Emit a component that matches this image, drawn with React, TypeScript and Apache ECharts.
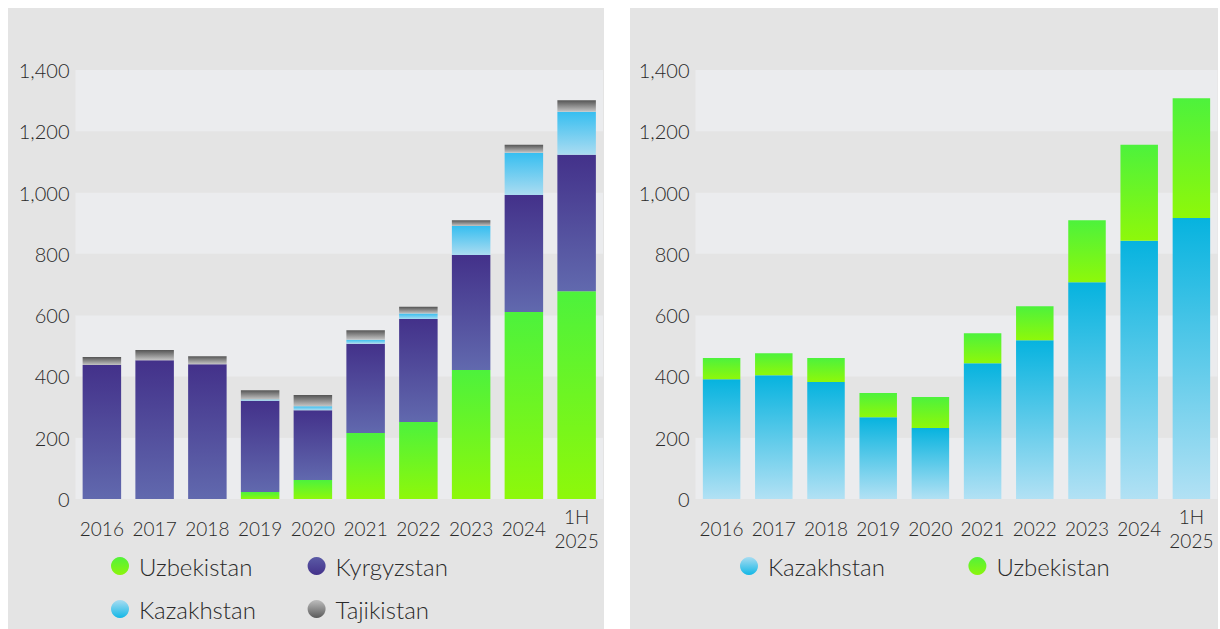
import React, { useEffect, useRef } from "react";
import * as echarts from "echarts";

const categories = ["2016", "2017", "2018", "2019", "2020", "2021", "2022", "2023", "2024", "1H\n2025"];

// Left chart (stacked, bottom to top)
const leftUzbekistan = [0, 0, 0, 23, 62, 215, 251, 421, 610, 678];
const leftKyrgyzstan = [437, 453, 440, 298, 228, 292, 336, 375, 382, 445];
const leftKazakhstan = [0, 0, 0, 4, 13, 13, 18, 95, 138, 141];
const leftTajikistan = [26, 33, 26, 30, 36, 31, 22, 19, 26, 37];

// Right chart (stacked, bottom to top)
const rightKazakhstan = [391, 404, 382, 267, 232, 443, 518, 707, 843, 917];
const rightUzbekistan = [69, 72, 78, 79, 101, 98, 111, 203, 313, 391];

const FONT = "Lato";
const WEIGHT = 300;
const TEXT = "#2a2a2a";

const grad = (top: string, bottom: string) =>
  new echarts.graphic.LinearGradient(0, 0, 0, 1, [
    { offset: 0, color: top },
    { offset: 1, color: bottom },
  ]);

const C = {
  uzb: ["#4df23c", "#8ef80a"],
  kyr: ["#43318a", "#6169ae"],
  kazL: ["#36bef0", "#abdcf1"],
  kazR: ["#06b3df", "#b2e1f4"],
  taj: ["#555555", "#c4c4c4"],
};

export default function App() {
  const ref = useRef<HTMLDivElement>(null);

  useEffect(() => {
    if (!ref.current) return;
    const chart = echarts.init(ref.current, undefined, { renderer: "svg" });

    const yAxisBase = (gridIndex: number) => ({
      type: "value" as const,
      gridIndex,
      min: 0,
      max: 1600,
      interval: 200,
      axisLine: { show: false },
      axisTick: { show: false },
      splitLine: { show: false },
      splitArea: { show: true, areaStyle: { color: ["#ebecee", "#e4e4e4"] } },
      axisLabel: {
        margin: 6,
        fontFamily: FONT,
        fontWeight: WEIGHT,
        fontSize: 20,
        color: TEXT,
        formatter: (v: number) => (v >= 1600 ? "" : v.toLocaleString("en-US")),
      },
    });

    const xAxisBase = (gridIndex: number) => ({
      type: "category" as const,
      gridIndex,
      data: categories,
      axisLine: { show: false },
      axisTick: { show: false },
      axisLabel: {
        margin: 29,
        verticalAlign: "middle" as const,
        fontFamily: FONT,
        fontWeight: WEIGHT,
        fontSize: 19,
        lineHeight: 24,
        color: TEXT,
        interval: 0,
      },
    });

    const legendItem = (name: string, left: number, top: number, icon: [string, string]) => ({
      left,
      top,
      icon: "circle",
      itemWidth: 18,
      itemHeight: 18,
      selectedMode: false,
      textStyle: { fontFamily: FONT, fontWeight: WEIGHT, fontSize: 24, color: TEXT, padding: [0, 0, 0, 5] },
      data: [{ name, itemStyle: { color: grad(icon[0], icon[1]) } }],
    });

    const option = {
      animation: false,
      grid: [
        { left: 75.5, right: 617, top: 8.7, bottom: 130 },
        { left: 695.5, right: 2.5, top: 8.7, bottom: 130 },
      ],
      xAxis: [xAxisBase(0), xAxisBase(1)],
      yAxis: [yAxisBase(0), yAxisBase(1)],
      legend: [
        legendItem("Uzbekistan", 106, 549, ["#52f23a", "#8cf50c"]),
        legendItem("Kyrgyzstan", 302.6, 549, ["#5b5ba6", "#43318a"]),
        legendItem("Kazakhstan", 106, 592, ["#a8dcf1", "#12b7e6"]),
        legendItem("Tajikistan", 302.6, 592, ["#bdbdbd", "#5a5a5a"]),
        legendItem("Kazakhstan ", 735, 549, ["#a8dcf1", "#12b7e6"]),
        legendItem("Uzbekistan ", 963.4, 549, ["#52f23a", "#8cf50c"]),
      ],
      series: [
        {
          name: "Uzbekistan",
          type: "bar",
          stack: "L",
          xAxisIndex: 0,
          yAxisIndex: 0,
          barWidth: 38.5,
          data: leftUzbekistan,
          itemStyle: { color: grad(C.uzb[0], C.uzb[1]) },
        },
        {
          name: "Kyrgyzstan",
          type: "bar",
          stack: "L",
          xAxisIndex: 0,
          yAxisIndex: 0,
          barWidth: 38.5,
          data: leftKyrgyzstan,
          itemStyle: { color: grad(C.kyr[0], C.kyr[1]) },
        },
        {
          name: "Kazakhstan",
          type: "bar",
          stack: "L",
          xAxisIndex: 0,
          yAxisIndex: 0,
          barWidth: 38.5,
          data: leftKazakhstan,
          itemStyle: { color: grad(C.kazL[0], C.kazL[1]) },
        },
        {
          name: "Tajikistan",
          type: "bar",
          stack: "L",
          xAxisIndex: 0,
          yAxisIndex: 0,
          barWidth: 38.5,
          data: leftTajikistan,
          itemStyle: { color: grad(C.taj[0], C.taj[1]) },
        },
        {
          name: "Kazakhstan ",
          type: "bar",
          stack: "R",
          xAxisIndex: 1,
          yAxisIndex: 1,
          barWidth: 37.5,
          data: rightKazakhstan,
          itemStyle: { color: grad(C.kazR[0], C.kazR[1]) },
        },
        {
          name: "Uzbekistan ",
          type: "bar",
          stack: "R",
          xAxisIndex: 1,
          yAxisIndex: 1,
          barWidth: 37.5,
          data: rightUzbekistan,
          itemStyle: { color: grad(C.uzb[0], C.uzb[1]) },
        },
      ],
    };

    chart.setOption(option as any);
    return () => chart.dispose();
  }, []);

  return (
    <div style={{ position: "fixed", left: 0, top: 0, width: 1220, height: 629, background: "#ffffff" }}>
      <div style={{ position: "absolute", left: 8, top: 8, width: 596, height: 621, background: "#e4e4e4" }} />
      <div style={{ position: "absolute", left: 630, top: 8, width: 588, height: 621, background: "#e4e4e4" }} />
      <div ref={ref} style={{ position: "absolute", left: 0, top: 0, width: 1220, height: 629 }} />
    </div>
  );
}
